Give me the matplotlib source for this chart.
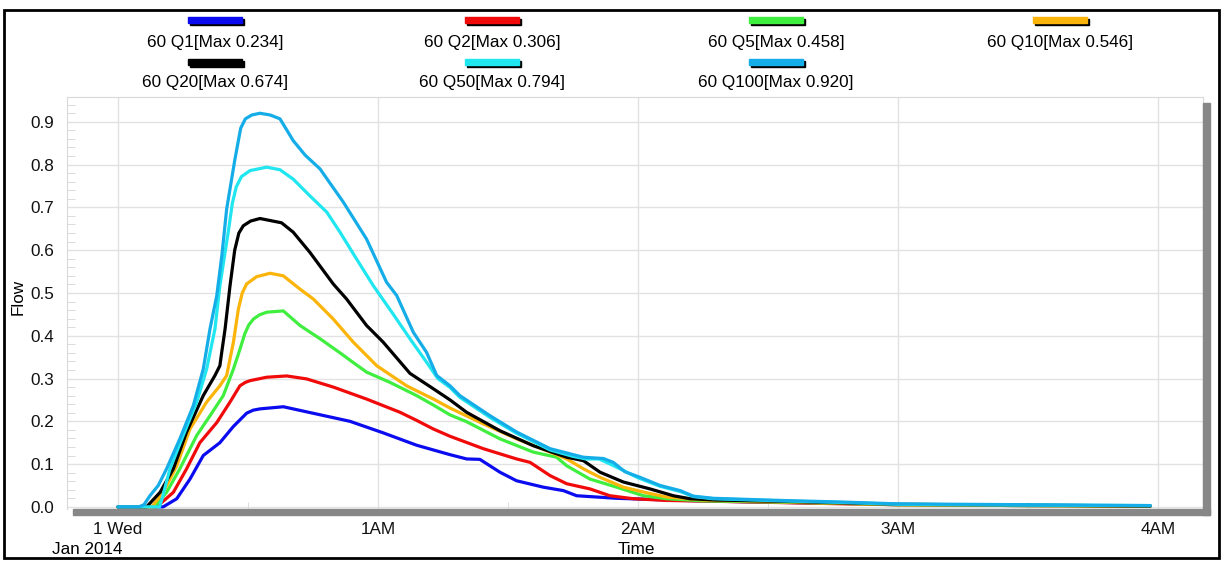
import matplotlib
matplotlib.use("Agg")
import matplotlib.pyplot as plt
from matplotlib.patches import Rectangle
from matplotlib.ticker import MultipleLocator

plt.rcParams["font.family"] = ["Liberation Sans", "DejaVu Sans"]

names = ["60 Q1", "60 Q2", "60 Q5", "60 Q10", "60 Q20", "60 Q50", "60 Q100"]
peaks = [0.234, 0.306, 0.458, 0.546, 0.674, 0.794, 0.920]
colors = ["#0b0bf0", "#f00a0a", "#40ee40", "#fbb40a", "#000000", "#20e6f0", "#14ade8"]

# time in hours after midnight, flow
q1_t = [0, 0.174, 0.226, 0.277, 0.328, 0.392, 0.444, 0.495, 0.52, 0.546, 0.636, 0.764, 0.892, 1.02, 1.149,
        1.277, 1.341, 1.392, 1.469, 1.533, 1.636, 1.713, 1.764, 1.918, 2.174, 2.4, 2.8, 3.0, 3.5, 3.97]
q1_v = [0, 0, 0.019, 0.065, 0.12, 0.15, 0.188, 0.219, 0.226, 0.229, 0.234, 0.217, 0.2, 0.173, 0.144,
        0.122, 0.112, 0.111, 0.081, 0.061, 0.046, 0.038, 0.026, 0.02, 0.015, 0.012, 0.008, 0.005, 0.003, 0.002]

q2_t = [0, 0.149, 0.213, 0.264, 0.315, 0.38, 0.431, 0.469, 0.49, 0.508, 0.572, 0.649, 0.726, 0.828, 0.956,
        1.085, 1.149, 1.213, 1.277, 1.405, 1.533, 1.585, 1.662, 1.726, 1.815, 1.892, 1.982, 2.11, 2.3,
        2.55, 2.8, 3.0, 3.5, 3.97]
q2_v = [0, 0, 0.034, 0.089, 0.15, 0.197, 0.245, 0.283, 0.291, 0.295, 0.303, 0.306, 0.299, 0.28, 0.252,
        0.221, 0.202, 0.182, 0.165, 0.136, 0.112, 0.104, 0.073, 0.054, 0.042, 0.026, 0.019, 0.015, 0.013,
        0.01, 0.007, 0.005, 0.003, 0.002]

q5_t = [0, 0.14, 0.187, 0.238, 0.303, 0.354, 0.405, 0.444, 0.469, 0.488, 0.503, 0.521, 0.545, 0.572, 0.636,
        0.7, 0.777, 0.854, 0.892, 0.956, 1.046, 1.149, 1.213, 1.277, 1.341, 1.469, 1.597, 1.687, 1.726, 1.815,
        1.918, 2.021, 2.11, 2.25, 2.55, 2.8, 3.0, 3.5, 3.97]
q5_v = [0, 0, 0.034, 0.089, 0.167, 0.213, 0.26, 0.322, 0.368, 0.405, 0.425, 0.439, 0.449, 0.455, 0.458,
        0.424, 0.393, 0.36, 0.343, 0.315, 0.291, 0.26, 0.238, 0.215, 0.199, 0.159, 0.128, 0.116, 0.096, 0.065,
        0.046, 0.026, 0.019, 0.014, 0.011, 0.008, 0.005, 0.003, 0.002]

q10_t = [0, 0.13, 0.174, 0.226, 0.277, 0.341, 0.392, 0.418, 0.431, 0.444, 0.463, 0.478, 0.495, 0.533,
         0.585, 0.636, 0.7, 0.751, 0.828, 0.905, 0.995, 1.11, 1.213, 1.277, 1.405, 1.533, 1.662, 1.726,
         1.79, 1.854, 1.944, 2.033, 2.11, 2.25, 2.55, 2.8, 3.0, 3.5, 3.97]
q10_v = [0, 0, 0.034, 0.096, 0.182, 0.245, 0.283, 0.307, 0.346, 0.385, 0.462, 0.5, 0.521, 0.538,
         0.546, 0.54, 0.509, 0.486, 0.439, 0.385, 0.33, 0.283, 0.252, 0.231, 0.194, 0.159, 0.128, 0.112,
         0.089, 0.069, 0.046, 0.033, 0.023, 0.016, 0.012, 0.008, 0.005, 0.003, 0.002]

q20_t = [0, 0.11, 0.162, 0.213, 0.264, 0.328, 0.373, 0.392, 0.399, 0.412, 0.431, 0.449, 0.465, 0.482,
         0.51, 0.546, 0.629, 0.674, 0.738, 0.828, 0.879, 0.956, 1.02, 1.123, 1.213, 1.277, 1.341, 1.469,
         1.597, 1.726, 1.79, 1.854, 1.944, 2.046, 2.136, 2.2, 2.3, 2.55, 2.8, 3.0, 3.5, 3.97]
q20_v = [0, 0, 0.034, 0.089, 0.175, 0.26, 0.307, 0.33, 0.361, 0.416, 0.517, 0.6, 0.64, 0.657,
         0.668, 0.674, 0.664, 0.642, 0.595, 0.521, 0.486, 0.424, 0.385, 0.312, 0.276, 0.25, 0.221, 0.178,
         0.143, 0.116, 0.108, 0.081, 0.058, 0.042, 0.026, 0.019, 0.016, 0.013, 0.009, 0.006, 0.004, 0.002]

q50_t = [0, 0.16, 0.17, 0.2, 0.251, 0.303, 0.341, 0.373, 0.392, 0.424, 0.44, 0.455, 0.475, 0.508, 0.572,
         0.623, 0.674, 0.738, 0.803, 0.854, 0.918, 0.982, 1.059, 1.123, 1.187, 1.23, 1.277, 1.315, 1.431,
         1.533, 1.662, 1.75, 1.8, 1.85, 1.9, 2.0, 2.085, 2.162, 2.213, 2.29, 2.55, 2.8, 3.0, 3.5, 3.97]
q50_v = [0, 0, 0.02, 0.089, 0.167, 0.245, 0.322, 0.416, 0.517, 0.642, 0.71, 0.748, 0.772, 0.786, 0.794,
         0.788, 0.766, 0.727, 0.689, 0.642, 0.579, 0.517, 0.45, 0.393, 0.338, 0.3, 0.279, 0.256, 0.209,
         0.172, 0.133, 0.118, 0.112, 0.112, 0.098, 0.068, 0.048, 0.036, 0.024, 0.019, 0.014, 0.01, 0.006,
         0.004, 0.003]

q100_t = [0, 0.08, 0.1, 0.123, 0.155, 0.187, 0.238, 0.29, 0.328, 0.354, 0.38, 0.4, 0.418, 0.45, 0.472,
          0.49, 0.515, 0.546, 0.585, 0.623, 0.674, 0.72, 0.777, 0.867, 0.956, 1.033, 1.072, 1.136, 1.187,
          1.226, 1.277, 1.315, 1.431, 1.533, 1.662, 1.79, 1.867, 1.905, 1.95, 2.008, 2.085, 2.162, 2.213,
          2.29, 2.55, 2.8, 3.0, 3.5, 3.97]
q100_v = [0, 0, 0.005, 0.026, 0.05, 0.089, 0.159, 0.237, 0.322, 0.416, 0.494, 0.59, 0.696, 0.813, 0.885,
          0.907, 0.916, 0.92, 0.916, 0.907, 0.856, 0.822, 0.79, 0.712, 0.626, 0.525, 0.494, 0.408, 0.361,
          0.307, 0.283, 0.26, 0.213, 0.175, 0.136, 0.116, 0.113, 0.104, 0.082, 0.069, 0.05, 0.038, 0.025,
          0.02, 0.015, 0.011, 0.007, 0.005, 0.003]

series_t = [q1_t, q2_t, q5_t, q10_t, q20_t, q50_t, q100_t]
series_v = [q1_v, q2_v, q5_v, q10_v, q20_v, q50_v, q100_v]

hour_ticks = [0, 1, 2, 3, 4]
hour_labels = ["1 Wed", "1AM", "2AM", "3AM", "4AM"]

W, H = 1223, 561
FS = 12.3


def fx(x):
    return x / W


def fy(y):
    return 1 - y / H


fig = plt.figure(figsize=(W / 100, H / 100), dpi=100)
ax = fig.add_axes([fx(67), fy(509), (1203 - 67) / W, (509 - 97) / H])

for t, v, c in zip(series_t, series_v, colors):
    ax.plot(t, v, color=c, lw=2.3, solid_joinstyle="round", solid_capstyle="round", zorder=3)

ax.set_xlim(-0.196, 4.173)
ax.set_ylim(-0.005, 0.958)
ax.set_xticks(hour_ticks)
ax.set_xticklabels(hour_labels)
ax.xaxis.set_minor_locator(MultipleLocator(0.5))
ax.set_yticks([i / 10 for i in range(10)])
ax.yaxis.set_major_formatter(matplotlib.ticker.FormatStrFormatter("%.1f"))
ax.yaxis.set_minor_locator(MultipleLocator(0.02))

ax.grid(True, which="major", color="#e2e2e2", lw=1, zorder=0)
ax.tick_params(which="major", length=0, labelsize=FS, colors="#111111")
ax.tick_params(axis="x", which="major", pad=9)
ax.tick_params(axis="y", which="major", pad=9)
ax.tick_params(axis="y", which="minor", direction="in", length=6, color="#d6d6d6")
ax.tick_params(axis="x", which="minor", direction="in", length=5, color="#d6d6d6")
for side in ["left", "top", "right"]:
    ax.spines[side].set_color("#d9d9d9")
ax.spines["bottom"].set_visible(False)

# shadow bars right and bottom of the plot area
fig.add_artist(Rectangle((fx(1203), fy(515)), 7 / W, (515 - 103) / H, color="#878787", transform=fig.transFigure))
fig.add_artist(Rectangle((fx(73), fy(515)), (1210 - 73) / W, 6 / H, color="#878787", transform=fig.transFigure))

fig.text(fx(18), fy(297), "Flow", rotation=90, ha="center", va="center", fontsize=FS)
fig.text(fx(636), fy(550), "Time", ha="center", va="center", fontsize=FS)
fig.text(fx(87), fy(550), "Jan 2014", ha="center", va="center", fontsize=FS)

col_x = [215, 492, 776, 1060]
text_y = [42, 83]
bar_y = [20, 62]
for i, name in enumerate(names):
    row, col = i // 4, i % 4
    cx = col_x[col]
    fig.add_artist(Rectangle((fx(cx - 27 + 2), fy(bar_y[row] + 3 + 2)), 54 / W, 6 / H,
                             color="black", transform=fig.transFigure))
    fig.add_artist(Rectangle((fx(cx - 27), fy(bar_y[row] + 3)), 54 / W, 6 / H,
                             color=colors[i], transform=fig.transFigure))
    fig.text(fx(cx), fy(text_y[row]), f"{name}[Max {peaks[i]:.3f}]", ha="center", va="center", fontsize=FS)

fig.add_artist(Rectangle((fx(4), fy(558)), (1219 - 4) / W, (558 - 10) / H, fill=False,
                         lw=2, ec="black", transform=fig.transFigure))

fig.savefig("out.png", dpi=100)
